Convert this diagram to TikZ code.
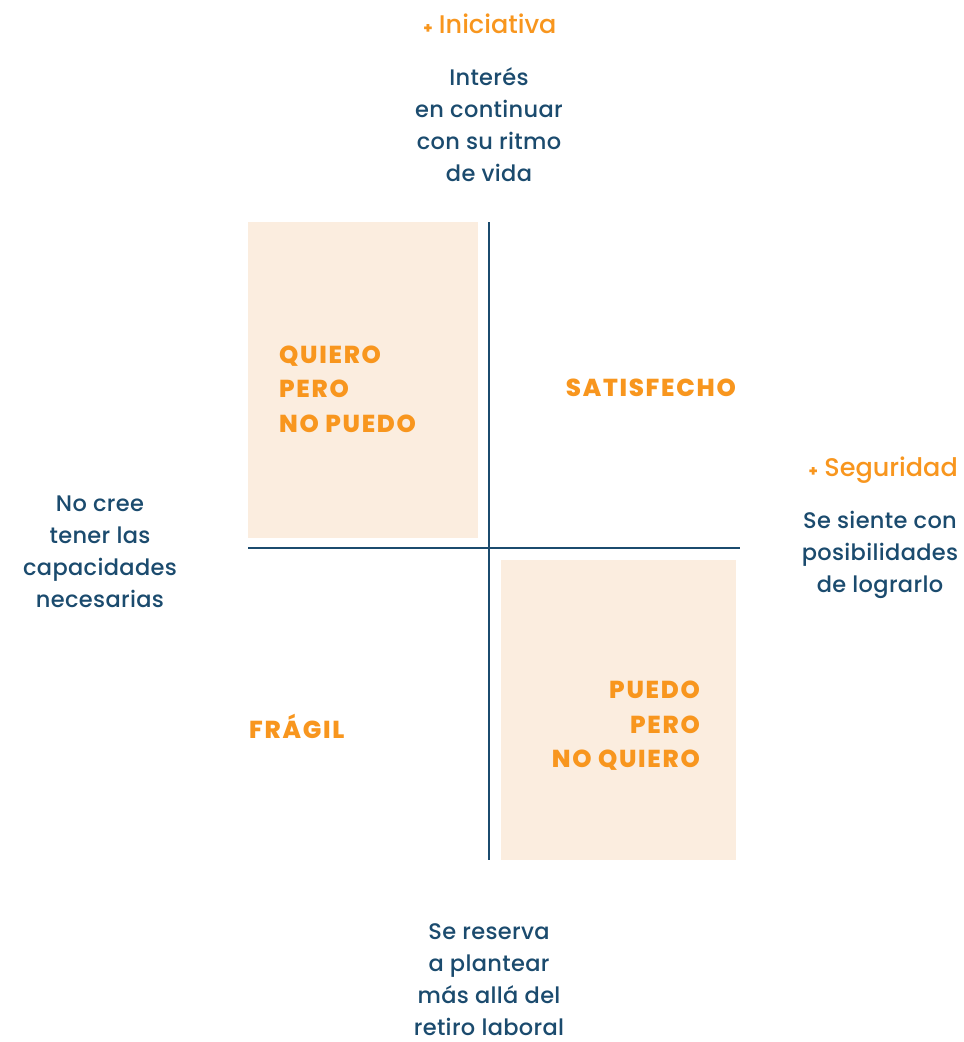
\documentclass[tikz,border=0pt]{standalone}
\usepackage{fontspec}
\setmainfont{Poppins}[BoldFont={Poppins ExtraBold}]
\newfontfamily\medfont{Poppins Medium}
\definecolor{navy}{HTML}{1B4B6E}
\definecolor{orng}{HTML}{F8961E}
\definecolor{peach}{HTML}{FBEDDF}
\tikzset{
  body/.style={text=navy, align=center, inner sep=0pt, font=\medfont\fontsize{22.5}{32}\selectfont\addfontfeature{LetterSpace=1.5}},
  head/.style={text=orng, inner sep=0pt, font=\medfont\fontsize{25.5}{30}\selectfont},
  quad/.style={text=orng, inner sep=0pt, font=\fontsize{24.5}{34.5}\selectfont\bfseries\addfontfeature{LetterSpace=7}},
  box/.style={fill=peach, draw=none},
  axis/.style={draw=navy, line width=1.3pt}
}
\begin{document}
\begin{tikzpicture}[x=1pt,y=-1pt]
\path[use as bounding box, fill=white] (0,0) rectangle (964,1042);
\fill[box] (248,222) rectangle (478,538);
\fill[box] (501,560) rectangle (736,860);
\coordinate (vt) at (489,222);
\coordinate (vb) at (489,860);
\coordinate (hl) at (248,548);
\coordinate (hr) at (740,548);
\draw[axis] (vt) -- (vb);
\draw[axis] (hl) -- (hr);
\node[head] (ini) at (490,24) {{\fontsize{15}{15}\selectfont\bfseries +} Iniciativa};
\node[body] (top) at (489,125) {Interés\\en continuar\\con su ritmo\\de vida};
\node[head, anchor=east] (seg) at (958,470) {{\fontsize{15}{15}\selectfont\bfseries +} Seguridad};
\node[body] (right) at (880,555) {Se siente con\\posibilidades\\de lograrlo};
\node[body] (left) at (100,552) {No cree\\tener las\\capacidades\\necesarias};
\node[body] (bot) at (489,980) {Se reserva\\a plantear\\más allá del\\retiro laboral};
\node[quad, align=left, anchor=west] (q1) at (279,389) {QUIERO\\PERO\\NO PUEDO};
\node[quad, anchor=east] (q2) at (736,388) {SATISFECHO};
\node[quad, anchor=west] (q3) at (249,726) {FRÁGIL};
\node[quad, align=right, anchor=east] (q4) at (700,726) {PUEDO\\PERO\\NO QUIERO};
\end{tikzpicture}
\end{document}
